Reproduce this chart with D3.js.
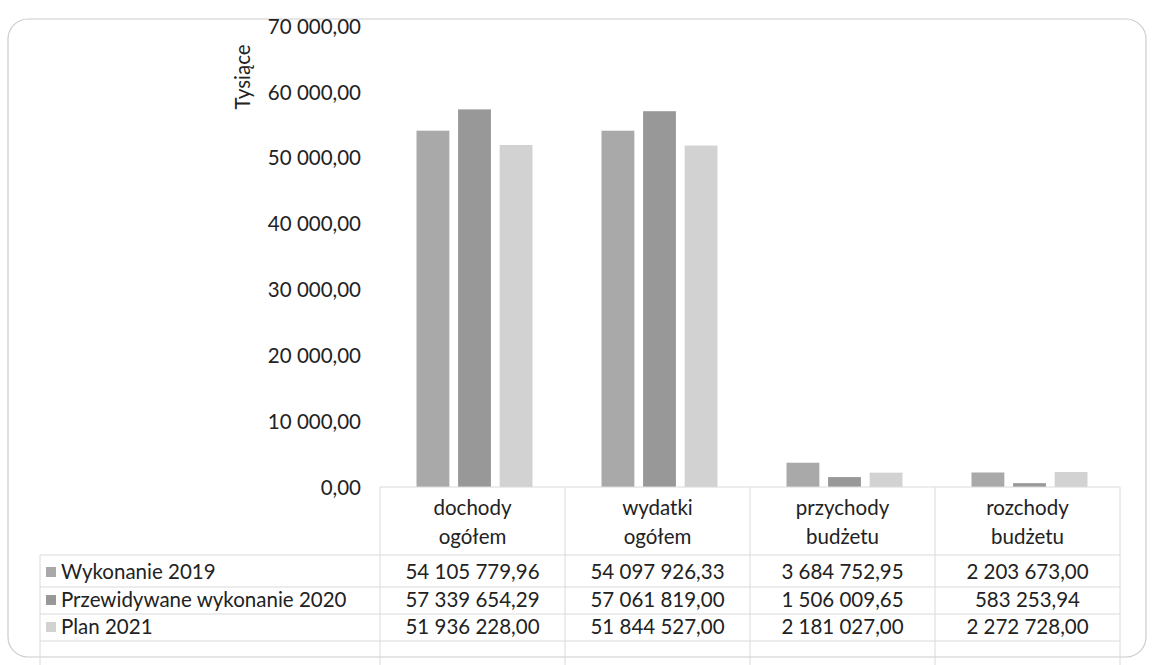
<!DOCTYPE html>
<html><head><meta charset="utf-8">
<script src="https://cdn.jsdelivr.net/npm/d3@7"></script>
<style>body{margin:0;background:#fff}svg{display:block}</style>
</head><body>
<svg id="c" width="1152" height="665"></svg>
<script>
const categories = [["dochody","ogółem"],["wydatki","ogółem"],["przychody","budżetu"],["rozchody","budżetu"]];
const seriesNames = ["Wykonanie 2019","Przewidywane wykonanie 2020","Plan 2021"];
const wykonanie2019 = [54105779.96, 54097926.33, 3684752.95, 2203673.00];
const przewidywane2020 = [57339654.29, 57061819.00, 1506009.65, 583253.94];
const plan2021 = [51936228.00, 51844527.00, 2181027.00, 2272728.00];
const yTicks = [0,10000,20000,30000,40000,50000,60000,70000];
const colors = ["#a9a9a9","#989898","#d2d2d2"];
const series = [wykonanie2019, przewidywane2020, plan2021];

const svg = d3.select("#c");
const font = "Lato, 'Open Sans', sans-serif";
const fs = 20.5;
const fmtNum = (v, dec) => {
  const s = v.toFixed(dec).split(".");
  const int = s[0].replace(/\B(?=(\d{3})+(?!\d))/g, "\u00a0");
  return int + "," + s[1];
};

// outer frame
svg.append("rect").attr("x",8).attr("y",19).attr("width",1138).attr("height",638)
  .attr("rx",20).attr("fill","none").attr("stroke","#cccccc").attr("stroke-width",1.2);

const x = d3.scaleBand().domain(d3.range(categories.length)).range([380,1120]);
const xs = d3.scaleBand().domain(d3.range(seriesNames.length)).range([0,116]).paddingInner(0.21);
const y = d3.scaleLinear().domain([0,70000]).range([487,26]);

// y axis labels
const yAxis = d3.axisLeft(y).tickValues(yTicks).tickSize(0).tickPadding(0)
  .tickFormat(d => fmtNum(d,2));
const ga = svg.append("g").attr("transform","translate(361,0)").call(yAxis);
ga.select(".domain").remove();
ga.selectAll("text").attr("font-family",font).attr("font-size",fs).attr("fill","#222").attr("dy","0.35em");

svg.append("text").attr("transform","translate(250,77) rotate(-90)")
  .attr("text-anchor","middle").attr("font-family",font).attr("font-size",fs).attr("fill","#222")
  .text("Tysiące");

// bars
series.forEach((vals,si) => {
  svg.append("g").selectAll("rect").data(vals).join("rect")
    .attr("x",(d,i)=> x(i) + (x.bandwidth()-116)/2 + xs(si) + 2)
    .attr("width",xs.bandwidth())
    .attr("y",d=>y(d/1000))
    .attr("height",d=>y(0)-y(d/1000))
    .attr("fill",colors[si]);
});

// table grid
const lineC = "#dadada";
const rowY = [555,587,614,641];
const tbl = svg.append("g").attr("stroke",lineC).attr("stroke-width",1);
tbl.append("line").attr("x1",380).attr("x2",1120).attr("y1",487).attr("y2",487);
rowY.forEach(yy => tbl.append("line").attr("x1",40).attr("x2",1120).attr("y1",yy).attr("y2",yy));
tbl.append("line").attr("x1",40).attr("x2",40).attr("y1",555).attr("y2",665);
d3.range(categories.length+1).forEach(i => {
  const xx = i < categories.length ? x(i) : 1120;
  tbl.append("line").attr("x1",xx).attr("x2",xx).attr("y1",487).attr("y2",665);
});

// category labels
categories.forEach((c,i) => {
  const t = svg.append("text").attr("text-anchor","middle").attr("font-family",font)
    .attr("font-size",fs).attr("fill","#222");
  t.append("tspan").attr("x",x(i)+x.bandwidth()/2).attr("y",515).text(c[0]);
  t.append("tspan").attr("x",x(i)+x.bandwidth()/2).attr("y",544).text(c[1]);
});

// table rows
const rowMid = [572,600,627];
seriesNames.forEach((name,si) => {
  svg.append("rect").attr("x",46).attr("y",rowMid[si]-5).attr("width",10).attr("height",10).attr("fill",colors[si]);
  svg.append("text").attr("x",61).attr("y",rowMid[si]).attr("dy","0.35em")
    .attr("font-family",font).attr("font-size",fs).attr("fill","#222").text(name);
  series[si].forEach((v,i) => {
    svg.append("text").attr("x",x(i)+x.bandwidth()/2).attr("y",rowMid[si]).attr("dy","0.35em")
      .attr("text-anchor","middle").attr("font-family",font).attr("font-size",fs).attr("fill","#222")
      .text(fmtNum(v,2));
  });
});
</script>
</body></html>
